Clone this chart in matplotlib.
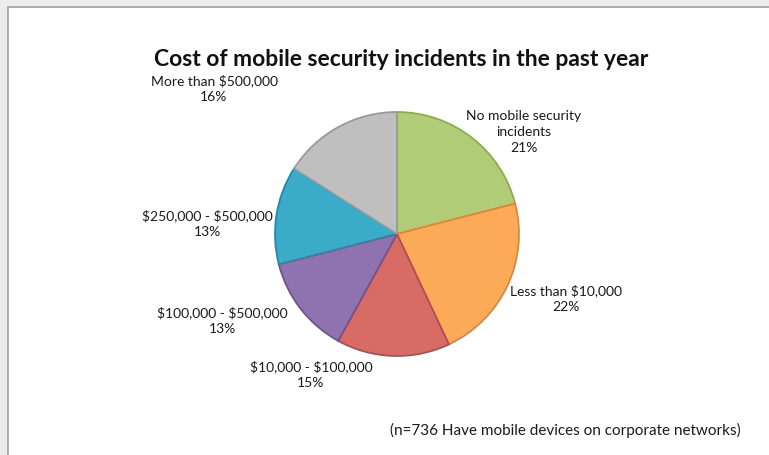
import matplotlib.pyplot as plt
from matplotlib.patches import Rectangle

plt.rcParams['font.family'] = ['Lato', 'DejaVu Sans']
plt.rcParams['text.parse_math'] = False

# Survey shares, clockwise from 12 o'clock
categories = ['No mobile security\nincidents', 'Less than $10,000', '$10,000 - $100,000',
              '$100,000 - $500,000', '$250,000 - $500,000', 'More than $500,000']
shares = [21, 22, 15, 13, 13, 16]
colors = ['#b0cc76', '#fcaa58', '#d96b66', '#8f72b0', '#3aabc9', '#bfbfbf']
edges = ['#8fa85c', '#d48a40', '#b04f4b', '#6d5490', '#2a87a1', '#9a9a9a']

W, H = 769, 456
fig = plt.figure(figsize=(W / 100, H / 100), dpi=100)
fig.patch.set_facecolor('#ececec')
ax = fig.add_axes([0, 0, 1, 1])

# chart area frame
ax.add_patch(Rectangle((8, -10), W, H - 8 + 10, facecolor='white',
                       edgecolor='#a0a0a0', linewidth=1.2, zorder=0))

wedges, _ = ax.pie(shares, colors=colors, startangle=90, counterclock=False,
                   center=(397, H - 235), radius=122, frame=True,
                   wedgeprops=dict(linewidth=1.3))
for w, ec in zip(wedges, edges):
    w.set_edgecolor(ec)
    w.set_zorder(2)
ax.set_xlim(0, W)
ax.set_ylim(0, H)
ax.set_aspect('equal')
ax.axis('off')

# slice labels
label_pos = [(524, 132), (566, 299), (311, 375), (222, 321), (207, 224), (214, 89)]
for name, pct, (x, y) in zip(categories, shares, label_pos):
    ax.text(x, H - y, f'{name}\n{pct}%', ha='center', va='center',
            fontsize=10, color='#1a1a1a', linespacing=1.4, zorder=3)

ax.text(401, H - 59, 'Cost of mobile security incidents in the past year',
        ha='center', va='center', fontsize=16.5, fontweight='bold', color='#111111')
ax.text(741, H - 430, '(n=736 Have mobile devices on corporate networks)',
        ha='right', va='center', fontsize=11, color='#1a1a1a')

plt.savefig('out.png', dpi=100, facecolor=fig.get_facecolor())
